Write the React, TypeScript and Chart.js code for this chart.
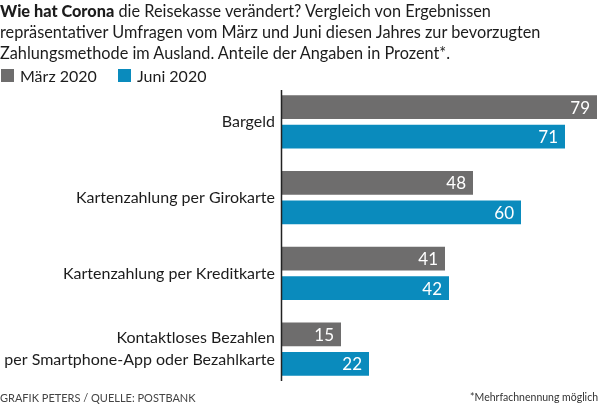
import React, { useEffect, useRef } from "react";
import { Chart, registerables } from "chart.js";

Chart.register(...registerables);

const categories: (string | string[])[] = [
  "Bargeld",
  "Kartenzahlung per Girokarte",
  "Kartenzahlung per Kreditkarte",
  ["Kontaktloses Bezahlen", "per Smartphone-App oder Bezahlkarte"],
];
const seriesNames = ["März 2020", "Juni 2020"];
const maerz2020 = [79, 48, 41, 15];
const juni2020 = [71, 60, 42, 22];

const GRAY = "#6e6d6d";
const BLUE = "#0a8bbd";
const FONT = "Lato, 'Liberation Sans', sans-serif";

// vertical base line at the start of the bars
const baseLine = {
  id: "baseLine",
  afterDatasetsDraw(chart: any) {
    const { ctx, chartArea } = chart;
    ctx.save();
    ctx.strokeStyle = "#222";
    ctx.lineWidth = 1.5;
    ctx.beginPath();
    ctx.moveTo(chartArea.left + 0.5, chartArea.top + 6);
    ctx.lineTo(chartArea.left + 0.5, chartArea.bottom - 6);
    ctx.stroke();
    ctx.restore();
  },
};

// value labels inside the end of each bar
const valueLabels = {
  id: "valueLabels",
  afterDatasetsDraw(chart: any) {
    const { ctx } = chart;
    ctx.save();
    ctx.fillStyle = "#ffffff";
    ctx.font = `17px ${FONT}`;
    ctx.textAlign = "right";
    ctx.textBaseline = "middle";
    chart.data.datasets.forEach((ds: any, i: number) => {
      const meta = chart.getDatasetMeta(i);
      meta.data.forEach((el: any, j: number) => {
        ctx.fillText(String(ds.data[j]), el.x - 7, el.y + 1);
      });
    });
    ctx.restore();
  },
};

export default function App() {
  const canvasRef = useRef<HTMLCanvasElement>(null);

  useEffect(() => {
    if (!canvasRef.current) return;
    const chart = new Chart(canvasRef.current, {
      type: "bar",
      data: {
        labels: categories,
        datasets: [
          { label: seriesNames[0], data: maerz2020, backgroundColor: GRAY },
          { label: seriesNames[1], data: juni2020, backgroundColor: BLUE },
        ],
      },
      options: {
        indexAxis: "y",
        responsive: false,
        animation: false,
        layout: { padding: { top: 84, bottom: 18, right: 3, left: 0 } },
        datasets: { bar: { categoryPercentage: 0.78, barPercentage: 0.8 } },
        plugins: {
          legend: { display: false },
          tooltip: { enabled: false },
        },
        scales: {
          x: { display: false, min: 0, max: 79 },
          y: {
            grid: { display: false, drawTicks: false },
            border: { display: false },
            afterFit: (scale: any) => {
              scale.width = 281;
            },
            ticks: {
              padding: 6,
              color: "#1c1c1c",
              font: { family: FONT, size: 16, lineHeight: 1.4 },
            },
          },
        },
      },
      plugins: [baseLine, valueLabels],
    });
    return () => chart.destroy();
  }, []);

  const legendItem = (color: string, text: string, left: number) => (
    <div style={{ position: "absolute", left, top: 67, height: 16, display: "flex", alignItems: "center" }}>
      <span style={{ width: 13, height: 13, background: color, display: "inline-block", marginRight: 6 }} />
      <span>{text}</span>
    </div>
  );

  return (
    <div
      style={{
        position: "fixed",
        left: 0,
        top: 0,
        width: 600,
        height: 405,
        background: "#fff",
        fontFamily: FONT,
        color: "#1c1c1c",
        overflow: "hidden",
      }}
    >
      <canvas ref={canvasRef} width={600} height={405} style={{ position: "absolute", left: 0, top: 0 }} />
      <div style={{ position: "absolute", left: 0, top: 0, fontSize: 16.3, lineHeight: "21px", whiteSpace: "nowrap" }}>
        <div>
          <b style={{ fontWeight: 900 }}>Wie hat Corona</b> die Reisekasse verändert? Vergleich von Ergebnissen
        </div>
        <div>repräsentativer Umfragen vom März und Juni diesen Jahres zur bevorzugten</div>
        <div>Zahlungsmethode im Ausland. Anteile der Angaben in Prozent*.</div>
      </div>
      <div style={{ fontSize: 16 }}>
        {legendItem(GRAY, seriesNames[0], 1)}
        {legendItem(BLUE, seriesNames[1], 118)}
      </div>
      <div style={{ position: "absolute", left: 0, top: 391, fontSize: 11, color: "#444", whiteSpace: "nowrap" }}>
        GRAFIK PETERS / QUELLE: POSTBANK
      </div>
      <div style={{ position: "absolute", right: 2, top: 391, fontSize: 10.5, color: "#333", whiteSpace: "nowrap" }}>
        *Mehrfachnennung möglich
      </div>
    </div>
  );
}
